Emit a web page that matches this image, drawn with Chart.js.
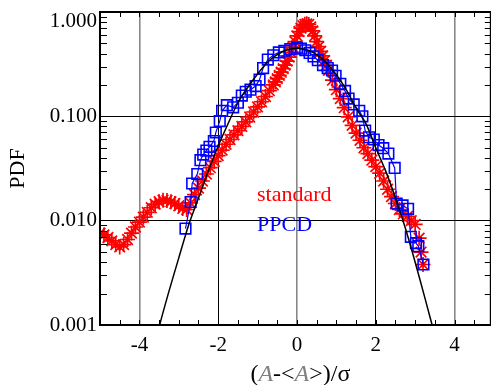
<!DOCTYPE html>
<html><head><meta charset="utf-8">
<script src="https://cdn.jsdelivr.net/npm/chart.js@4.4.1/dist/chart.umd.min.js"></script>
<style>
html,body{margin:0;padding:0;overflow:hidden;background:#fff;width:491px;height:385px}
#wrap{position:relative;width:500px;height:385px}
</style></head>
<body><div id="wrap"><canvas id="c"></canvas></div>
<script>
// ---- data ----
const xTicks = [-4, -2, 0, 2, 4];
const yTicks = [0.001, 0.01, 0.1, 1];

const stdX = [-5.0,-4.9,-4.8,-4.7,-4.6,-4.5,-4.4,-4.3,-4.2,-4.1,-4.0,-3.9,-3.8,-3.7,-3.6,-3.5,-3.4,-3.3,-3.2,-3.1,
  -3.0,-2.9,-2.8,-2.7,-2.6,-2.5,-2.4,-2.3,-2.2,-2.1,-2.0,-1.9,-1.8,-1.7,-1.6,-1.5,-1.4,-1.3,-1.2,-1.1,
  -1.0,-0.9,-0.8,-0.7,-0.6,-0.55,-0.5,-0.45,-0.4,-0.35,-0.3,-0.25,-0.2,-0.15,-0.1,-0.05,0.0,0.05,0.1,0.15,
  0.2,0.25,0.3,0.35,0.4,0.45,0.5,0.55,0.6,0.65,0.7,0.75,0.8,0.9,1.0,1.1,1.2,1.3,1.4,1.5,
  1.6,1.7,1.8,1.9,2.0,2.1,2.2,2.3,2.4,2.5,2.6,2.7,2.8,2.9,3.0,3.1,3.15,3.2];
const stdY = [0.0076,0.0073,0.0069,0.0064,0.0059,0.0056,0.0059,0.0066,0.0076,0.0087,0.0097,0.0108,0.0120,0.0133,0.0144,0.0152,0.0157,0.0156,0.0152,0.0146,
  0.0139,0.0131,0.0128,0.0148,0.0178,0.0205,0.0240,0.0280,0.0322,0.0370,0.0420,0.0475,0.0540,0.0600,0.0665,0.0730,0.0800,0.0885,0.0985,0.110,
  0.123,0.138,0.155,0.176,0.200,0.214,0.230,0.247,0.265,0.286,0.310,0.338,0.370,0.410,0.460,0.520,0.590,0.650,0.700,0.740,
  0.762,0.770,0.760,0.720,0.660,0.590,0.520,0.465,0.420,0.380,0.342,0.308,0.276,0.222,0.180,0.148,0.121,0.099,0.082,0.069,
  0.059,0.050,0.044,0.038,0.033,0.0285,0.0240,0.0200,0.0170,0.0146,0.0128,0.0116,0.0110,0.0100,0.0092,0.0068,0.0050,0.0038];

const ppcdX = [-2.83,-2.70,-2.66,-2.53,-2.45,-2.38,-2.30,-2.22,-2.11,-2.06,-1.96,-1.90,-1.78,-1.62,-1.50,-1.40,-1.30,-1.18,-1.05,-0.95,
  -0.86,-0.74,-0.60,-0.46,-0.32,-0.17,0.0,0.10,0.21,0.32,0.42,0.53,0.66,0.78,0.89,0.98,1.10,1.22,1.31,1.44,
  1.58,1.66,1.73,1.83,1.95,2.07,2.19,2.32,2.48,2.53,2.68,2.82,2.89,3.02,3.08,3.21];
const ppcdY = [0.0084,0.0151,0.0227,0.028,0.038,0.043,0.047,0.051,0.058,0.070,0.090,0.113,0.128,0.122,0.135,0.158,0.172,0.180,0.195,0.225,
  0.29,0.35,0.385,0.41,0.425,0.44,0.455,0.445,0.43,0.405,0.375,0.345,0.31,0.29,0.275,0.245,0.205,0.175,0.148,0.130,
  0.113,0.100,0.073,0.063,0.060,0.053,0.0495,0.044,0.032,0.0146,0.0140,0.0130,0.0070,0.0061,0.0057,0.0038];

const fitX = [-3.6,-3.5,-3.25,-3.0,-2.75,-2.5,-2.25,-2.0,-1.75,-1.5,-1.25,-1.0,-0.75,-0.5,-0.25,0.0,
  0.25,0.5,0.75,1.0,1.25,1.5,1.75,2.0,2.25,2.5,2.75,3.0,3.25,3.5,3.6];
const fitY = [0.0006,0.00095,0.0021,0.0044,0.0091,0.0165,0.030,0.052,0.085,0.135,0.19,0.255,0.33,0.39,0.435,0.45,
  0.435,0.39,0.325,0.25,0.18,0.12,0.085,0.050,0.030,0.0165,0.0085,0.0040,0.0018,0.0008,0.0006];

const FONT = '"Liberation Serif","Times New Roman",serif';
const pts = (xs, ys) => xs.map((x, i) => ({x, y: ys[i]}));

const framePlugin = {
  id: 'frame',
  afterDatasetsDraw(chart) {
    const {ctx, chartArea: a, scales: {x, y}} = chart;
    ctx.save();
    ctx.strokeStyle = '#000';
    ctx.lineWidth = 1;
    ctx.beginPath();
    for (let k = -10; k <= 10; k++) {
      const v = k / 2;
      if (v <= x.min || v >= x.max) continue;
      const px = Math.round(x.getPixelForValue(v)) + 0.5;
      ctx.moveTo(px, a.bottom); ctx.lineTo(px, a.bottom - 5);
      ctx.moveTo(px, a.top); ctx.lineTo(px, a.top + 5);
    }
    for (let d = -3; d <= -1; d++) {
      for (let m = 2; m <= 9; m++) {
        const v = m * Math.pow(10, d);
        const py = Math.round(y.getPixelForValue(v)) + 0.5;
        ctx.moveTo(a.left, py); ctx.lineTo(a.left + 7, py);
        ctx.moveTo(a.right, py); ctx.lineTo(a.right - 6, py);
      }
    }
    ctx.stroke();
    ctx.lineWidth = 2;
    ctx.strokeRect(a.left, a.top, a.right - a.left, a.bottom - a.top);
    ctx.restore();
  },
  afterDraw(chart) {
    const {ctx, chartArea: a} = chart;
    ctx.save();
    // x axis title with italic A
    const segs = [['(', false], ['A', true], ['-<', false], ['A', true], ['>)/\u03c3', false]];
    const fN = '24px ' + FONT, fI = 'italic 24px ' + FONT;
    let w = 0;
    segs.forEach(s => { ctx.font = s[1] ? fI : fN; w += ctx.measureText(s[0]).width; });
    let cx = (a.left + a.right) / 2 + 5 - w / 2;
    ctx.textBaseline = 'alphabetic';
    segs.forEach(s => {
      ctx.font = s[1] ? fI : fN;
      ctx.fillStyle = s[1] ? '#808080' : '#000';
      ctx.fillText(s[0], cx, a.bottom + 56);
      cx += ctx.measureText(s[0]).width;
    });
    // in-plot labels
    ctx.font = '22px ' + FONT;
    ctx.fillStyle = '#ff0000';
    ctx.fillText('standard', a.left + 157, a.top + 189);
    ctx.fillStyle = '#0000ff';
    ctx.fillText('PPCD', a.left + 157, a.top + 219);
    ctx.restore();
  }
};

new Chart(document.getElementById('c'), {
  type: 'scatter',
  data: {
    datasets: [
      {label: 'fit', data: pts(fitX, fitY), showLine: true, borderColor: '#000', borderWidth: 1.5,
       pointRadius: 0, tension: 0.3, clip: 0},
      {label: 'PPCD', data: pts(ppcdX, ppcdY), showLine: true, borderColor: '#0000ff', borderWidth: 1.2,
       pointStyle: 'rect', pointRadius: 7.5, pointBorderColor: '#0000ff', pointBackgroundColor: 'rgba(0,0,0,0)',
       pointBorderWidth: 1.6, clip: 0},
      {label: 'standard', data: pts(stdX, stdY), showLine: false, pointStyle: 'star', pointRadius: 7.5,
       pointBorderColor: '#ff0000', pointBackgroundColor: '#ff0000', pointBorderWidth: 1.7, clip: 0}
    ]
  },
  options: {
    responsive: true, maintainAspectRatio: false, animation: false,
    layout: {padding: {left: 0, top: 12, right: 8, bottom: 0}},
    plugins: {legend: {display: false}, tooltip: {enabled: false}},
    scales: {
      x: {
        type: 'linear', min: -5, max: 4.92,
        afterBuildTicks: s => { s.ticks = xTicks.map(v => ({value: v})); },
        afterFit: s => { s.height = 60; s.paddingLeft = 0; s.paddingRight = 0; },
        border: {display: false},
        grid: {drawTicks: false,
          color: c => (c.tick && Math.abs(c.tick.value) === 2) ? '#000' : '#888',
          lineWidth: c => (c.tick && Math.abs(c.tick.value) === 2) ? 1 : 1.6},
        ticks: {autoSkip: false, maxRotation: 0, padding: 8, color: '#000',
          font: {family: FONT, size: 21}, callback: v => String(v)}
      },
      y: {
        type: 'logarithmic', min: 0.001, max: 1,
        afterBuildTicks: s => { s.ticks = yTicks.map(v => ({value: v})); },
        afterFit: s => { s.width = 100; s.paddingTop = 0; s.paddingBottom = 0; },
        border: {display: false},
        grid: {drawTicks: false,
          color: c => (c.tick && (c.tick.value === 0.1 || c.tick.value === 0.01)) ? '#000' : 'rgba(0,0,0,0)',
          lineWidth: 1},
        title: {display: true, text: 'PDF', color: '#000', font: {family: FONT, size: 22}, padding: {top: 5, bottom: 0}},
        ticks: {autoSkip: false, padding: 3, color: '#000',
          font: c => ({family: FONT, size: 21, lineHeight: (c.tick && c.tick.value === 1) ? 0.95 : 1.2}),
          callback: v => v === 1 ? ['', '1.000'] : Number(v).toFixed(3)}
      }
    }
  },
  plugins: [framePlugin]
});
</script>
</body></html>
